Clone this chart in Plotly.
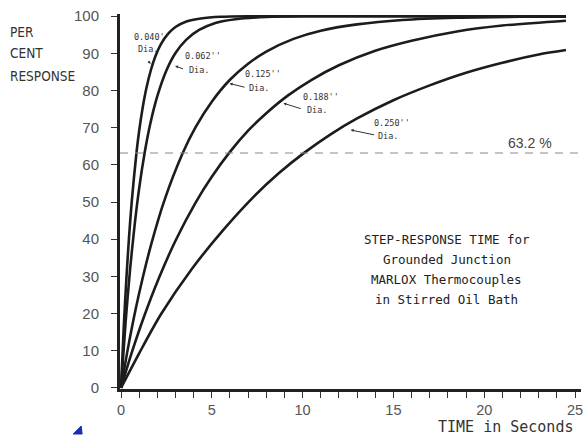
import plotly.graph_objects as go

# ---- data ----
DIAMETERS = ["0.040''", "0.062''", "0.125''", "0.188''", "0.250''"]

t_040 = [0, 0.15, 0.3, 0.45, 0.6, 0.85, 1.0, 1.2, 1.4, 1.65, 1.9, 2.2, 2.6, 3.0, 3.6, 4.4, 5.5, 7.0, 24.5]
v_040 = [0, 16.2, 29.7, 41.1, 50.6, 63.2, 69.2, 75.6, 80.7, 85.6, 89.3, 92.5, 95.3, 97.1, 98.6, 99.4, 99.85, 100, 100]

t_062 = [0, 0.25, 0.5, 0.75, 1.0, 1.3, 1.6, 2.0, 2.5, 3.0, 3.6, 4.3, 5.2, 6.3, 8.0, 10.0, 24.5]
v_062 = [0, 17.5, 31.9, 43.8, 53.7, 63.2, 70.8, 78.5, 85.4, 90.1, 93.7, 96.3, 98.2, 99.2, 99.8, 100, 100]

t_125 = [0, 0.4, 0.8, 1.2, 1.7, 2.4, 3.4, 4.1, 5.0, 6.0, 7.0, 8.0, 9.5, 11, 13, 15.5, 18.5, 22, 24.5]
v_125 = [0, 11.1, 21.0, 29.7, 39.3, 50.6, 63.2, 70.1, 77.0, 82.9, 87.2, 90.5, 93.9, 96.1, 97.8, 99.0, 99.6, 99.85, 99.9]

t_188 = [0, 0.6, 1.3, 2.1, 3.0, 4.1, 5.0, 6.0, 7.0, 8.0, 9.2, 10.5, 12, 14, 16, 18.5, 21, 24.5]
v_188 = [0, 9.6, 19.6, 29.7, 39.6, 49.8, 56.8, 63.5, 69.2, 73.9, 78.7, 82.9, 86.8, 90.7, 93.4, 95.9, 97.5, 98.8]

t_250 = [0, 1.0, 2.2, 3.9, 5.6, 7.3, 8.7, 10.1, 11.5, 13, 15, 17, 19, 21, 23, 24.5]
v_250 = [0, 9.3, 19.8, 32.0, 42.3, 51.4, 57.8, 63.3, 68.1, 72.5, 77.4, 81.4, 84.8, 87.5, 89.7, 90.9]

THRESHOLD = 63.2
X_TICKS = [0, 5, 10, 15, 20, 25]
Y_TICKS = [0, 10, 20, 30, 40, 50, 60, 70, 80, 90, 100]

# label positions (styling): (text x, text y line1, text y line2, arrow tail x,y, arrow head x,y)
LABEL_POS = [
    (0.59, 94.4, 91.3, 1.41, 88.3, 1.64, 87.2),
    (3.42, 89.3, 85.5, 3.50, 85.7, 2.98, 86.6),
    (6.70, 84.4, 80.6, 6.89, 80.8, 5.98, 81.9),
    (9.90, 78.3, 74.7, 9.98, 75.0, 8.94, 76.6),
    (13.83, 71.2, 67.7, 14.02, 68.0, 12.65, 69.4),
]

series = [(t_040, v_040), (t_062, v_062), (t_125, v_125), (t_188, v_188), (t_250, v_250)]

fig = go.Figure()
for (tt, vv), name in zip(series, DIAMETERS):
    fig.add_trace(go.Scatter(
        x=tt, y=vv, mode="lines", name=name,
        line=dict(color="#1c1c1c", width=2.6, shape="spline", smoothing=0.8),
        showlegend=False, hoverinfo="skip",
    ))

mono = "DejaVu Sans Mono, Liberation Mono, monospace"
sans = "Liberation Sans, Arial, sans-serif"
narrow = "Liberation Sans Narrow, Arial Narrow, DejaVu Sans Condensed, sans-serif"

annotations = []
for name, (tx, ty1, ty2, ax, ay, hx, hy) in zip(DIAMETERS, LABEL_POS):
    annotations.append(dict(x=tx, y=ty1, xref="x", yref="y", text=name, showarrow=False,
                            xanchor="left", yanchor="middle",
                            font=dict(family=mono, size=8.5, color="#333")))
    annotations.append(dict(x=tx + 0.22, y=ty2, xref="x", yref="y", text="Dia.", showarrow=False,
                            xanchor="left", yanchor="middle",
                            font=dict(family=mono, size=8.5, color="#333")))
    annotations.append(dict(x=hx, y=hy, ax=ax, ay=ay, xref="x", yref="y", axref="x", ayref="y",
                            text="", showarrow=True, arrowhead=2, arrowsize=0.6, arrowwidth=1,
                            arrowcolor="#333"))

# threshold label
annotations.append(dict(x=22.5, y=THRESHOLD + 2.7, xref="x", yref="y", text="63.2 %",
                        showarrow=False, xanchor="center", yanchor="middle",
                        font=dict(family=sans, size=14, color="#444")))

# caption block
caption = ["STEP-RESPONSE TIME for", "Grounded Junction", "MARLOX Thermocouples", "in Stirred Oil Bath"]
cap_y = [40.0, 34.6, 29.2, 23.8]
for line, yy in zip(caption, cap_y):
    annotations.append(dict(x=17.93, y=yy, xref="x", yref="y", text=line, showarrow=False,
                            xanchor="center", yanchor="middle",
                            font=dict(family=mono, size=12.5, color="#222")))

# axis titles
for line, yy in zip(["PER", "CENT", "RESPONSE"], [0.953, 0.895, 0.836]):
    annotations.append(dict(x=-0.2420, y=yy, xref="paper", yref="paper", text=line, showarrow=False,
                            xanchor="left", yanchor="middle",
                            font=dict(family=narrow, size=13.5, color="#333")))
annotations.append(dict(x=0.987, y=-0.102, xref="paper", yref="paper", text="TIME in Seconds",
                        showarrow=False, xanchor="right", yanchor="middle",
                        font=dict(family=mono, size=15, color="#333")))

shapes = [
    dict(type="line", xref="paper", yref="y", x0=0.0, x1=1.0, y0=THRESHOLD, y1=THRESHOLD,
         line=dict(color="#8a8a8a", width=1.2, dash="8px,7px")),
    dict(type="path", xref="paper", yref="paper",
         path="M -0.1015 -0.12 L -0.0842 -0.0987 L -0.0821 -0.12 Z",
         fillcolor="#1a2fb0", line=dict(color="#1a2fb0", width=1)),
]

fig.update_layout(
    width=586, height=435,
    margin=dict(l=120, r=3, t=14, b=46),
    paper_bgcolor="white", plot_bgcolor="white",
    annotations=annotations, shapes=shapes,
    xaxis=dict(range=[-0.055, 25.33], tickvals=X_TICKS, showgrid=False, zeroline=False,
               showline=True, linecolor="#222", linewidth=2.5,
               ticks="outside", ticklen=6, tickwidth=1.2, tickcolor="#333",
               minor=dict(dtick=1, ticks="outside", ticklen=6, tickwidth=1.2, tickcolor="#333", showgrid=False),
               tickfont=dict(family=sans, size=14.5, color="#555")),
    yaxis=dict(range=[-0.3, 100.6], tickvals=Y_TICKS, showgrid=False, zeroline=False,
               showline=True, linecolor="#222", linewidth=3,
               ticks="outside", ticklen=6, tickwidth=1.2, tickcolor="#333",
               ticklabelstandoff=9,
               tickfont=dict(family=sans, size=15, color="#555")),
)

fig.write_html("out.html", config={"displayModeBar": False},
               post_script="document.body.style.margin='0px';document.body.style.overflow='hidden';")
